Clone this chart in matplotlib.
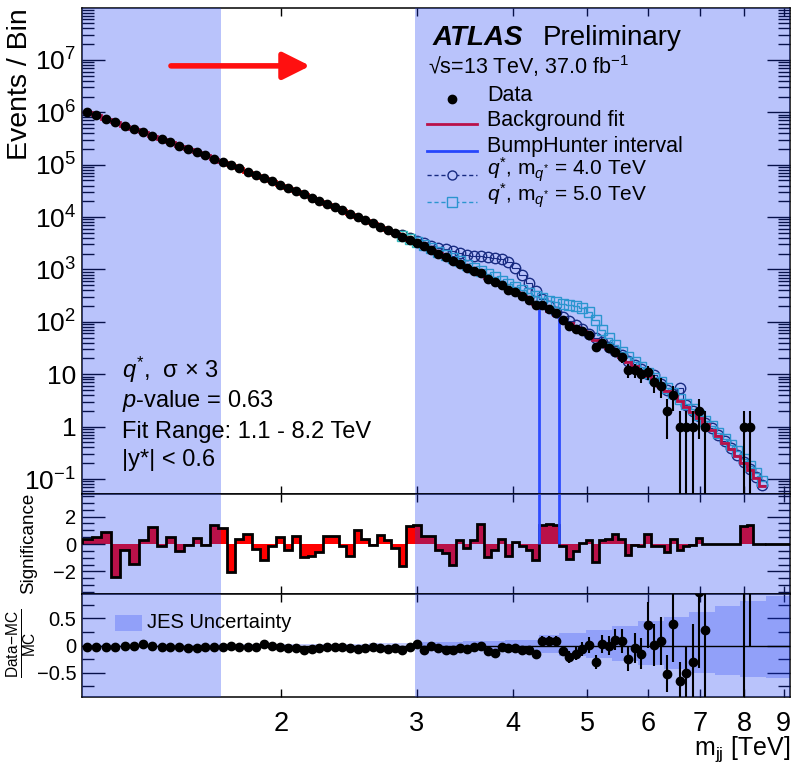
import numpy as np
import matplotlib
matplotlib.use("Agg")
import matplotlib.pyplot as plt
from matplotlib.lines import Line2D
from matplotlib.patches import Rectangle
from matplotlib.ticker import FixedLocator, FixedFormatter, NullLocator, NullFormatter, LogLocator, MultipleLocator

plt.rcParams['font.family'] = ['Liberation Sans', 'DejaVu Sans']
plt.rcParams['mathtext.fontset'] = 'custom'
plt.rcParams['mathtext.rm'] = 'Liberation Sans'
plt.rcParams['mathtext.it'] = 'Liberation Sans:italic'
plt.rcParams['mathtext.bf'] = 'Liberation Sans:bold'

# m_jj bin edges [TeV]
bin_edges = [1.100, 1.133, 1.166, 1.200, 1.234, 1.269, 1.305, 1.341, 1.378, 1.416,
             1.454, 1.493, 1.533, 1.573, 1.614, 1.656, 1.698, 1.741, 1.785, 1.830,
             1.875, 1.921, 1.968, 2.016, 2.065, 2.114, 2.164, 2.215, 2.267, 2.320,
             2.374, 2.429, 2.485, 2.542, 2.600, 2.659, 2.719, 2.780, 2.842, 2.905,
             2.969, 3.034, 3.100, 3.167, 3.235, 3.305, 3.376, 3.448, 3.521, 3.596,
             3.672, 3.749, 3.827, 3.907, 3.988, 4.070, 4.154, 4.239, 4.326, 4.414,
             4.504, 4.595, 4.688, 4.782, 4.878, 4.975, 5.074, 5.175, 5.277, 5.381,
             5.487, 5.595, 5.705, 5.817, 5.931, 6.047, 6.165, 6.285, 6.407, 6.531,
             6.658, 6.787, 6.918, 7.052, 7.188, 7.326, 7.467, 7.610, 7.756, 7.904,
             8.055, 8.208, 8.364, 8.523]

fit_counts = [1.02e6, 8.76e5, 7.53e5, 6.48e5, 5.59e5, 4.81e5, 4.15e5, 3.58e5, 3.09e5, 2.67e5,
              2.31e5, 2.00e5, 1.73e5, 1.50e5, 1.30e5, 1.125e5, 9.76e4, 8.47e4, 7.34e4, 6.37e4,
              5.53e4, 4.80e4, 4.17e4, 3.62e4, 3.14e4, 2.73e4, 2.37e4, 2.06e4, 1.79e4, 1.55e4,
              1.34e4, 1.16e4, 1.01e4, 8730, 7550, 6540, 5650, 4890, 4220, 3650,
              3150, 2720, 2340, 2020, 1740, 1490, 1280, 1100, 943, 807,
              690, 590, 503, 428, 365, 310, 263, 223, 188, 159,
              134, 112, 94.3, 78.9, 65.9, 55.0, 45.7, 37.9, 31.3, 25.8,
              21.2, 17.4, 14.2, 11.5, 9.33, 7.52, 6.04, 4.82, 3.84, 3.04,
              2.39, 1.87, 1.45, 1.12, 0.858, 0.653, 0.493, 0.369, 0.274, 0.201,
              0.146, 0.105, 0.0744]

data_counts = [1020390, 876449, 753738, 646052, 558656, 479994, 415206, 358724, 308905, 267264,
               230745, 199978, 173183, 149961, 130509, 112889, 96957, 84813, 73598, 63614,
               55032, 47963, 41804, 36122, 31499, 27143, 23569, 20521, 17974, 15568,
               13383, 11508, 10205, 8767, 7546, 6595, 5674, 4869, 4117, 3727,
               3229, 2751, 2369, 2002, 1713, 1432, 1291, 1090, 952, 848,
               665, 580, 511, 409, 368, 308, 256, 206, 207, 177,
               150, 110, 84, 74, 66, 57, 33, 40, 32, 27,
               21, 12, 12, 10, 11, 7, 6, 2, 4, 1,
               1, 1, 2, 1, 0, 0, 0, 0, 0, 1,
               1, 0, 0]

significance = [0.39, 0.48, 0.85, -2.42, -0.46, -1.45, 0.32, 1.21, -0.17, 0.51,
                -0.53, -0.05, 0.44, -0.10, 1.41, 1.16, -2.06, 0.39, 0.73, -0.34,
                -1.14, -0.17, 0.51, -0.41, 0.56, -0.95, -0.85, -0.55, 0.55, 0.55,
                -0.15, -0.85, 1.05, 0.40, -0.05, 0.68, 0.32, -0.30, -1.58, 1.28,
                1.41, 0.60, 0.60, -0.41, -0.65, -1.50, 0.30, -0.30, 0.30, 1.45,
                -0.97, -0.41, 0.36, -0.90, 0.15, -0.12, -0.41, -1.14, 1.36, 1.45,
                1.36, -0.17, -1.07, -0.53, 0.07, 0.32, -1.31, 0.32, 0.36, 0.75,
                0.36, -0.78, -0.05, -0.12, 0.73, -0.12, -0.12, -0.60, 0.36, -0.41,
                -0.17, -0.05, 0.44, 0.0, 0.0, 0.0, 0.0, 0.0, 0.0, 1.28,
                1.40, 0.0, 0.0]

nan = float('nan')
ratio_vals = [-0.03, -0.02, -0.03, -0.02, -0.01, -0.01, 0.02, 0.0, -0.02, -0.03,
              -0.03, -0.04, -0.04, -0.03, -0.03, -0.02, -0.01, -0.02, -0.03, -0.02,
              0.02, 0.0, -0.03, -0.04, -0.05, -0.09, -0.06, -0.04, -0.03, -0.02,
              -0.03, -0.04, -0.06, -0.04, -0.03, -0.05, -0.07, -0.04, -0.08, -0.02,
              0.03, -0.08, 0.0, -0.05, -0.08, -0.08, -0.05, -0.06, -0.03, 0.0,
              -0.10, -0.13, -0.02, -0.05, -0.05, -0.08, -0.08, -0.15, 0.09, 0.09,
              0.09, -0.10, -0.22, -0.15, -0.07, 0.01, -0.31, 0.03, 0.0, 0.11,
              0.09, -0.25, -0.05, -0.15, 0.38, 0.01, 0.08, -0.52, 0.40, -0.65,
              -0.50, -0.30, 0.98, 0.29, nan, nan, nan, nan, nan, 4.0,
              5.0, nan, nan]

ratio_errs = [0.005] * 40 + [0.02, 0.02, 0.02, 0.02, 0.025, 0.025, 0.025, 0.03, 0.03, 0.03,
                             0.035, 0.035, 0.04, 0.04, 0.045, 0.05, 0.05, 0.06, 0.08, 0.08,
                             0.09, 0.10, 0.11, 0.12, 0.13, 0.14, 0.13, 0.16, 0.18, 0.20,
                             0.22, 0.22, 0.28, 0.28, 0.42, 0.38, 0.44, 0.34, 0.70, 0.35,
                             0.50, 0.70, 1.40, 1.30, 0.0, 0.0, 0.0, 0.0, 0.0, 5.0,
                             5.0, 0.0, 0.0]

# q* signal + background, starting at the 2.842 TeV bin
signal_first_bin = 38
qstar4_counts = [4560, 4015,
                 3560, 3180, 2855, 2626, 2436, 2235, 2048, 1925, 1839, 1775,
                 1725, 1652, 1559, 1370, 1059, 775, 552, 390, 273, 199,
                 154, 125, 105.6, 86.8, 72.5, 59.4, 49.4, 40.6, 33.5, 27.3,
                 23.3, 18.3, 15.1, 12.4, 10.3, 9.8, 6.6, 5.06, 4.2, 5.5,
                 2.6, 1.96, 1.6, 1.18, 0.93, 0.686, 0.532, 0.387, 0.288, 0.211,
                 0.153, 0.11, 0.078]
qstar5_counts = [4430, 3870,
                 3340, 2910, 2530, 2200, 1914, 1654, 1434, 1243, 1075, 936,
                 814, 708, 614, 535, 467, 409, 358, 317, 282, 254,
                 235, 218, 207, 197, 181, 154, 110, 70.1, 48.5, 35.6,
                 27.1, 21.2, 17.0, 13.6, 10.8, 8.65, 7.25, 5.54, 4.42, 3.40,
                 2.75, 2.21, 1.67, 1.29, 1.03, 0.77, 0.59, 0.45, 0.34, 0.245,
                 0.175, 0.131, 0.093]

# JES uncertainty band (relative)
jes_edges = [1.1, 1.416, 1.785, 2.164, 2.600, 3.034, 3.448, 3.907, 4.326, 4.595,
             4.975, 5.381, 5.817, 6.285, 6.787, 7.326, 7.904, 8.523, 9.17]
jes_up = [0.01, 0.015, 0.02, 0.03, 0.04, 0.06, 0.09, 0.11, 0.19, 0.23,
          0.28, 0.36, 0.45, 0.53, 0.62, 0.72, 0.82, 0.92]
jes_down = [0.01, 0.015, 0.02, 0.03, 0.035, 0.05, 0.07, 0.09, 0.14, 0.19,
            0.23, 0.29, 0.36, 0.43, 0.50, 0.55, 0.58, 0.60]

x_range = (1.1, 9.17)
shaded_ranges = [(1.1, 1.669), (2.984, 9.17)]
bumphunter_edges = [4.326, 4.595]
bumphunter_tops = [209, 134]
x_ticks = [2, 3, 4, 5, 6, 7, 8, 9]
arrow_from, arrow_to, arrow_y = 1.437, 2.18, 7.7e6

W, H = 793, 767
RED = '#ff0000'
BLUE = '#2d4bff'
NAVY = '#17244f'
TEAL = '#33bcc0'
SHADE = (26 / 255, 59 / 255, 245 / 255)


def fx(px):
    return px / W


def fy(py):
    return 1 - py / H


edges = np.array(bin_edges)
centers = 0.5 * (edges[:-1] + edges[1:])
fit = np.array(fit_counts)
data = np.array(data_counts, dtype=float)

fig = plt.figure(figsize=(W / 100, H / 100), dpi=100)
left, width = fx(81.7), (790 - 81.7) / W
ax1 = fig.add_axes([left, fy(494), width, 486 / H])
ax2 = fig.add_axes([left, fy(594), width, 100 / H])
ax3 = fig.add_axes([left, fy(697), width, 103 / H])

for ax in (ax1, ax2, ax3):
    ax.set_xscale('log')
    ax.set_xlim(*x_range)
    for s in ax.spines.values():
        s.set_linewidth(1.1)
    for a, b in shaded_ranges:
        ax.axvspan(a, b, color=SHADE, alpha=0.3, lw=0, zorder=3)
    ax.xaxis.set_major_locator(FixedLocator(x_ticks))
    ax.xaxis.set_minor_locator(NullLocator())
    ax.xaxis.set_major_formatter(NullFormatter())
    ax.tick_params(which='both', direction='in', top=True, right=True, width=1.0)
    ax.tick_params(axis='x', which='major', length=6)
    ax.tick_params(axis='y', which='major', length=16.5)
    ax.tick_params(axis='y', which='minor', length=8.5)

# ---- top panel ----
ax1.set_yscale('log')
ax1.set_ylim(0.0518, 9.8e7)
ax1.stairs(fit, edges, baseline=None, color=RED, lw=2.0, zorder=2.2)
sedges = edges[signal_first_bin:]
ax1.stairs(qstar4_counts, sedges, baseline=None, color=NAVY, lw=0.8, zorder=2.0)
ax1.plot(centers[signal_first_bin:], qstar4_counts, 'o', mfc='none', mec=NAVY, ms=7.5, mew=1.0, zorder=2.0)
ax1.stairs(qstar5_counts, sedges, baseline=None, color=TEAL, lw=1.0, zorder=2.1)
ax1.plot(centers[signal_first_bin:], qstar5_counts, 's', mfc='none', mec=TEAL, ms=7.0, mew=1.0, zorder=2.1)

has = data > 0
err = np.sqrt(data[has])
lo = np.where(data[has] - err <= 0, data[has] - 1e-4, err)
ax1.errorbar(centers[has], data[has], yerr=[lo, err], fmt='o', color='k', ms=6,
             lw=1.5, capsize=0, zorder=4)
ax1.vlines(bumphunter_edges, 0.0518, bumphunter_tops, color=BLUE, lw=2, zorder=4)
ax1.annotate('', xy=(arrow_to, arrow_y), xytext=(arrow_from, arrow_y),
             arrowprops=dict(arrowstyle='-|>,head_length=0.66,head_width=0.33',
                             color='#ff1010', lw=4, mutation_scale=25, shrinkA=0, shrinkB=0),
             zorder=6)

ax1.yaxis.set_major_locator(FixedLocator([1e-1, 1, 10, 1e2, 1e3, 1e4, 1e5, 1e6, 1e7]))
ax1.yaxis.set_major_formatter(FixedFormatter([r'$10^{-1}$', '1', '10', r'$10^{2}$', r'$10^{3}$',
                                              r'$10^{4}$', r'$10^{5}$', r'$10^{6}$', r'$10^{7}$']))
ax1.yaxis.set_minor_locator(LogLocator(base=10, subs=np.arange(2, 10), numticks=30))
ax1.yaxis.set_minor_formatter(NullFormatter())
ax1.tick_params(axis='y', labelsize=19, pad=4)


# legend (samples in axes coords)
def ax1_xy(px, py):
    return (px - 81.7) / 708.3, (494 - py) / 486


for py, kw in [(124, dict(color=RED, lw=2.0)), (150.7, dict(color=BLUE, lw=2.0))]:
    x0, y0 = ax1_xy(427, py)
    x1, _ = ax1_xy(477, py)
    ax1.add_line(Line2D([x0, x1], [y0, y0], transform=ax1.transAxes, zorder=2.5, **kw))
for py, col, mk in [(175, NAVY, 'o'), (201.5, TEAL, 's')]:
    x0, y0 = ax1_xy(427, py)
    x1, _ = ax1_xy(477, py)
    xm, _ = ax1_xy(452, py)
    ax1.add_line(Line2D([x0, x1], [y0, y0], transform=ax1.transAxes, color=col, lw=1.0,
                        ls=(0, (3, 2)), zorder=2.5))
    ax1.plot([xm], [y0], mk, mfc='white', mec=col, ms=6.5, mew=1.0, transform=ax1.transAxes, zorder=2.6)
xd, yd = ax1_xy(452, 99)
ax1.plot([xd], [yd], 'o', color='k', ms=6, transform=ax1.transAxes, zorder=4)

fig.text(fx(433), fy(45), 'ATLAS', fontsize=20, fontweight='bold', fontstyle='italic', va='baseline')
fig.text(fx(543), fy(45), 'Preliminary', fontsize=20, va='baseline')
fig.text(fx(428), fy(74), '\u221as=13 TeV, 37.0 fb$^{-1}$', fontsize=15.5, va='baseline')
legend_labels = ['Data', 'Background fit', 'BumpHunter interval',
                 r'$q^{*}$, m$_{q^{*}}$ = 4.0 TeV', r'$q^{*}$, m$_{q^{*}}$ = 5.0 TeV']
for lab, py in zip(legend_labels, [100.7, 126, 151.7, 176, 201.7]):
    fig.text(fx(487), fy(py), lab, fontsize=15.5 if 'TeV' not in lab else 15, va='baseline')

info_lines = ['$q^{*}$,  \u03c3 \u00d7 3', r'$p$-value = 0.63', 'Fit Range: 1.1 - 8.2 TeV', '|y*| < 0.6']
for lab, py in zip(info_lines, [378.3, 406.7, 437.7, 466]):
    fig.text(fx(121.7), fy(py), lab, fontsize=17, va='baseline')

fig.text(fx(20), fy(8), 'Events / Bin', rotation=90, fontsize=20.5, ha='center', va='top')

# ---- significance panel ----
ax2.set_ylim(-3.65, 3.65)
ax2.stairs(significance, edges, baseline=0, fill=True, color=RED, lw=0, zorder=1)
ax2.stairs(significance, edges, baseline=0, color='k', lw=2.0, zorder=4)
ax2.plot([edges[-1], x_range[1]], [0, 0], color='k', lw=2.0, zorder=4)
ax2.vlines(bumphunter_edges, 0, 3.65, color=BLUE, lw=2, zorder=5)
ax2.yaxis.set_major_locator(FixedLocator([-2, 0, 2]))
ax2.yaxis.set_major_formatter(FixedFormatter(['\u22122', '0', '2']))
ax2.yaxis.set_minor_locator(MultipleLocator(0.5))
ax2.tick_params(axis='y', labelsize=14.5, pad=4)
fig.text(fx(29), fy(543.5), 'Significance', rotation=90, fontsize=13.5, ha='center', va='center')

# ---- ratio panel ----
ax3.set_ylim(-0.95, 0.95)
ax3.stairs(jes_up, jes_edges, baseline=-np.array(jes_down), fill=True, color=SHADE, alpha=0.25,
           lw=0, zorder=2)
ax3.axhline(0, color='k', lw=1.0, zorder=4)
rv = np.array(ratio_vals)
ok = ~np.isnan(rv)
ax3.errorbar(centers[ok], rv[ok], yerr=np.array(ratio_errs)[ok], fmt='o', color='k', ms=6,
             lw=1.5, capsize=0, zorder=5)
ax3.add_patch(Rectangle(((115 - 81.7) / 708.3, (697 - 631) / 103), 27 / 708.3, 16 / 103,
                        transform=ax3.transAxes, color=SHADE, alpha=0.25, lw=0, zorder=4))
ax3.text((147 - 81.7) / 708.3, (697 - 623) / 103, 'JES Uncertainty', transform=ax3.transAxes,
         fontsize=14.5, va='center', zorder=6)
ax3.yaxis.set_major_locator(FixedLocator([-0.5, 0, 0.5]))
ax3.yaxis.set_major_formatter(FixedFormatter(['\u22120.5', '0', '0.5']))
ax3.yaxis.set_minor_locator(MultipleLocator(0.25))
ax3.xaxis.set_major_formatter(FixedFormatter([str(t) for t in x_ticks]))
ax3.tick_params(axis='y', labelsize=14.5, pad=4)
ax3.tick_params(axis='x', labelsize=19.5, pad=10)
fig.text(fx(22), fy(643), r'$\frac{\mathrm{Data\!-\!MC}}{\mathrm{MC}}$', rotation=90, fontsize=16,
         ha='center', va='center')
fig.text(fx(790), fy(755), r'm$_{\mathrm{jj}}$ [TeV]', fontsize=18, ha='right', va='baseline')

fig.savefig('out.png', dpi=100)
